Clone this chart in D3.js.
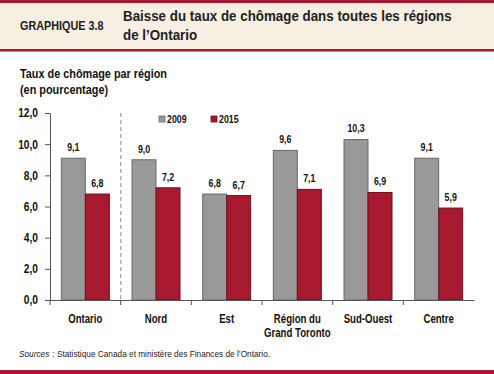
<!DOCTYPE html>
<html>
<head>
<meta charset="utf-8">
<script src="https://d3js.org/d3.v7.min.js"></script>
<style>
  body { margin: 0; background: #fff; }
  svg { display: block; font-family: "Liberation Sans Narrow", "Arial Narrow", "Liberation Sans", Arial, sans-serif; }
</style>
</head>
<body>
<div id="vis"></div>
<script>
// data
var regions = ["Ontario", "Nord", "Est", "Région du|Grand Toronto", "Sud-Ouest", "Centre"];
var years = ["2009", "2015"];
var values2009 = [9.1, 9.0, 6.8, 9.6, 10.3, 9.1];
var values2015 = [6.8, 7.2, 6.7, 7.1, 6.9, 5.9];
var yTicks = [0, 2, 4, 6, 8, 10, 12];

var W = 494, H = 374;
var svg = d3.select("#vis").append("svg")
  .attr("width", W)
  .attr("height", H);

// no narrow font installed, so squeeze the text a bit
function narrow(sel, k) {
  sel.each(function() {
    var w = this.getComputedTextLength();
    d3.select(this).attr("textLength", w * k).attr("lengthAdjust", "spacingAndGlyphs");
  });
  return sel;
}

// header band
svg.append("rect").attr("x", 0).attr("y", 0).attr("width", W).attr("height", 52).attr("fill", "#f6efe2");
svg.append("rect").attr("x", 0).attr("y", 0).attr("width", W).attr("height", 3).attr("fill", "#a6192e");
svg.append("rect").attr("x", 0).attr("y", 49).attr("width", W).attr("height", 2.5).attr("fill", "#a6192e");
svg.append("rect").attr("x", 0).attr("y", 370).attr("width", W).attr("height", 4).attr("fill", "#a6192e");

narrow(svg.append("text").attr("x", 20).attr("y", 30)
  .attr("font-size", 12).attr("font-weight", "bold").attr("fill", "#222")
  .text("GRAPHIQUE 3.8"), 0.9);
narrow(svg.append("text").attr("x", 123).attr("y", 21)
  .attr("font-size", 15).attr("font-weight", "bold").attr("fill", "#222")
  .text("Baisse du taux de chômage dans toutes les régions"), 0.89);
narrow(svg.append("text").attr("x", 123).attr("y", 40)
  .attr("font-size", 15).attr("font-weight", "bold").attr("fill", "#222")
  .text("de l’Ontario"), 0.89);

// subtitle
narrow(svg.append("text").attr("x", 20).attr("y", 78)
  .attr("font-size", 13).attr("font-weight", "bold").attr("fill", "#111")
  .text("Taux de chômage par région"), 0.835);
narrow(svg.append("text").attr("x", 20).attr("y", 94)
  .attr("font-size", 13).attr("font-weight", "bold").attr("fill", "#111")
  .text("(en pourcentage)"), 0.835);

var x0 = d3.scaleBand().domain(regions).range([50, 474]).paddingInner(0).paddingOuter(0);
var x1 = d3.scaleBand().domain(years).range([0, 48]);
var y = d3.scaleLinear().domain([0, 12]).range([300, 113]);

// y axis
var yAxis = svg.append("g")
  .attr("transform", "translate(50,0)")
  .call(d3.axisLeft(y).tickValues(yTicks).tickSize(5).tickSizeOuter(0)
    .tickFormat(function(d) { return d3.format(".1f")(d).replace(".", ","); }));
yAxis.select(".domain").attr("stroke", "#555");
yAxis.selectAll(".tick line").attr("stroke", "#555");
narrow(yAxis.selectAll("text").attr("font-size", 12).attr("font-weight", "bold").attr("fill", "#111")
  .attr("font-family", null).attr("x", -12), 0.85);

// dashed separator
svg.append("line")
  .attr("x1", x0("Nord")).attr("x2", x0("Nord"))
  .attr("y1", y(12)).attr("y2", y(0))
  .attr("stroke", "#aaa").attr("stroke-width", 1.3).attr("stroke-dasharray", "4,3");

// bars
var colors = { "2009": "#999999", "2015": "#a6192e" };
var strokes = { "2009": "#6a6a6a", "2015": "#6e1020" };
var padX = (x0.bandwidth() - 48) / 2;
regions.forEach(function(r, i) {
  var vals = { "2009": values2009[i], "2015": values2015[i] };
  years.forEach(function(yr) {
    var bx = x0(r) + padX + x1(yr);
    svg.append("rect")
      .attr("x", bx).attr("y", y(vals[yr]))
      .attr("width", x1.bandwidth()).attr("height", y(0) - y(vals[yr]))
      .attr("fill", colors[yr]).attr("stroke", strokes[yr]).attr("stroke-width", 1);
    narrow(svg.append("text")
      .attr("x", bx + x1.bandwidth() / 2).attr("y", y(vals[yr]) - 7)
      .attr("text-anchor", "middle").attr("font-size", 11).attr("font-weight", "bold").attr("fill", "#111")
      .text(d3.format(".1f")(vals[yr]).replace(".", ",")), 0.8);
  });
});

// x axis
var xAxis = svg.append("g")
  .attr("transform", "translate(0,300)")
  .call(d3.axisBottom(x0).tickSize(0).tickFormat(""));
xAxis.select(".domain").attr("stroke", "#555");
xAxis.selectAll(".tick").remove();
regions.forEach(function(r) {
  svg.append("line").attr("x1", x0(r)).attr("x2", x0(r)).attr("y1", 300).attr("y2", 305).attr("stroke", "#555");
  var parts = r.split("|");
  parts.forEach(function(p, j) {
    narrow(svg.append("text")
      .attr("x", x0(r) + x0.bandwidth() / 2).attr("y", 323 + j * 14)
      .attr("text-anchor", "middle").attr("font-size", 12).attr("font-weight", "bold").attr("fill", "#111")
      .text(p), 0.8);
  });
});

// legend
years.forEach(function(yr, i) {
  var lx = 159 + i * 52;
  svg.append("rect").attr("x", lx).attr("y", 116).attr("width", 6).attr("height", 6)
    .attr("fill", colors[yr]).attr("stroke", strokes[yr]).attr("stroke-width", 0.8);
  narrow(svg.append("text").attr("x", lx + 8).attr("y", 123)
    .attr("font-size", 11).attr("font-weight", "bold").attr("fill", "#111").text(yr), 0.8);
});

// source
var srcA = narrow(svg.append("text").attr("x", 19).attr("y", 357)
  .attr("font-size", 9.5).attr("font-style", "italic").attr("fill", "#222")
  .text("Sources"), 0.87);
var srcW = +srcA.attr("textLength");
narrow(svg.append("text").attr("x", 19 + srcW + 3).attr("y", 357)
  .attr("font-size", 9.5).attr("fill", "#222")
  .text(": Statistique  Canada et ministère des Finances de l’Ontario."), 0.87);
</script>
</body>
</html>
